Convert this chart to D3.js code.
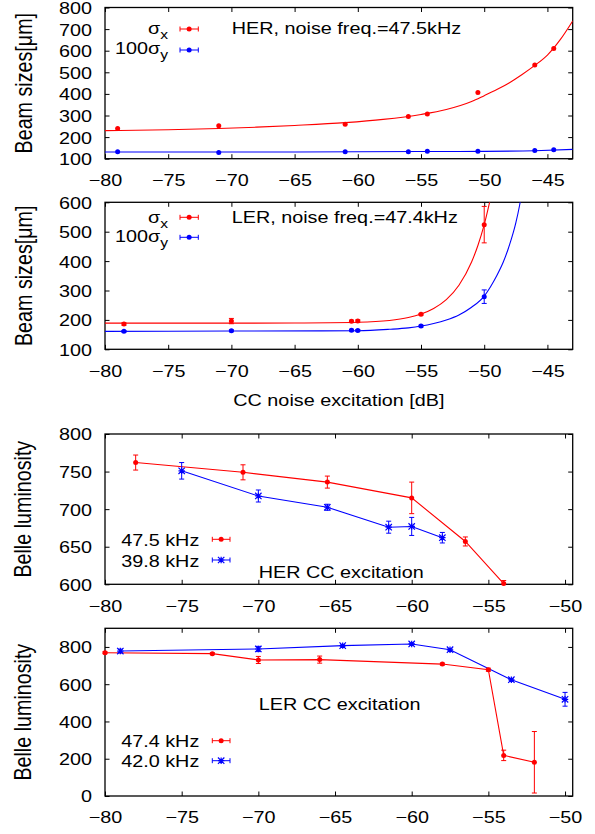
<!DOCTYPE html>
<html>
<head>
  <meta charset="utf-8">
  <title>CC noise excitation</title>
  <script src="https://cdn.jsdelivr.net/npm/d3@7"></script>
  <style>
    body { margin: 0; background: #fff; }
    text { font-family: "Liberation Sans", Arial, sans-serif; font-size: 16.5px; fill: #000; }
  </style>
</head>
<body>
<script>
// ---- data ----
// HER beam sizes, noise freq 47.5 kHz
var herX   = [-79, -71, -61, -56, -54.5, -50.5, -46, -44.5];
var herSx  = [240, 253, 259, 295, 307, 407, 534, 610];
var herSy  = [132, 129, 132, 132, 135, 135, 138, 142];
// fit curves (sampled from the plot)
var herSxFitX = [-80, -75, -71, -68, -65, -61, -58, -55, -53, -51, -50, -49, -48, -47, -46, -45, -44, -43];
var herSxFitY = [230, 234, 240, 246, 254, 267, 282, 305, 328, 365, 392, 420, 452, 490, 532, 580, 650, 738];
var herSyFitX = [-80, -65, -55, -50, -46, -43];
var herSyFitY = [131, 131, 133, 134, 137, 143];

// LER beam sizes, noise freq 47.4 kHz
var lerX    = [-78.5, -70, -60.5, -60, -55, -50];
var lerSx   = [186, 196, 195, 196, 219, 524];
var lerSxE  = [4, 9, 4, 4, 3, 62];
var lerSy   = [161, 163, 165, 164, 179, 279];
var lerSyE  = [3, 3, 3, 3, 3, 23];
var lerSxFitX = [-80, -70, -65, -60, -57.5, -56, -55, -54, -53, -52, -51, -50.5, -50, -49.5];
var lerSxFitY = [189, 189, 189.5, 192, 198, 208, 220, 239, 269, 318, 397, 453, 524, 614];
var lerSyFitX = [-80, -70, -60, -57.5, -56, -55, -54, -53, -52, -51, -50, -49.5, -49, -48.5, -48, -47.5, -47.2, -47];
var lerSyFitY = [161, 162, 163, 168, 173, 179, 188, 200, 217, 243, 281, 313, 351, 396, 455, 530, 590, 640];

// HER CC excitation, Belle luminosity
var herL1X = [-78, -71, -65.5, -60, -56.5, -54];
var herL1Y = [762, 749, 736, 715, 657, 601];
var herL1E = [10, 10, 8, 21, 6, 4];
var herL2X = [-75, -70, -65.5, -61.5, -60, -58];
var herL2Y = [751, 717.5, 702.5, 676, 677, 662];
var herL2E = [11, 8, 4, 8, 12, 7];

// LER CC excitation, Belle luminosity
var lerL1X = [-80, -73, -70, -66, -58, -55, -54, -52];
var lerL1Y = [769, 764, 730, 732, 708, 678, 218, 181];
var lerL1E = [5, 5, 19, 19, 5, 8, 28, 165];
var lerL2X = [-79, -70, -64.5, -60, -57.5, -53.5, -50];
var lerL2Y = [778, 789, 807, 816, 785, 624, 519];
var lerL2E = [10, 14, 5, 5, 5, 5, 37];

var ticksWide  = [-80, -75, -70, -65, -60, -55, -50, -45];
var ticksShort = [-80, -75, -70, -65, -60, -55, -50];

var RED = "#ff0000", BLUE = "#0000ff";
var L = 105, R = 572.7;
var SX = 1.2;   // the picture is stretched horizontally

var svg = d3.select("body").append("svg")
            .attr("width", 595)
            .attr("height", 834);

// text helper, stretched like the original
function txt(parent, x, y, s, anchor, rot) {
  var t = parent.append("text")
                .attr("text-anchor", anchor || "start")
                .attr("transform", "translate(" + x + "," + y + ") scale(" + SX + ",1)" + (rot ? " rotate(" + rot + ")" : ""));
  if (s != null) t.text(s);
  return t;
}

// y axis titles come out larger than the rest
function ylabel(g, x, y, s) {
  txt(g, x, y, s, "middle", -90).style("font-size", "19.7px");
}

var clipN = 0;
function panel(top, bottom, xdom, ydom, xt, yt) {
  var x = d3.scaleLinear().domain(xdom).range([L, R]);
  var y = d3.scaleLinear().domain(ydom).range([bottom, top]);
  var g = svg.append("g");
  var id = "clip" + (clipN++);
  g.append("clipPath").attr("id", id).append("rect")
   .attr("x", L).attr("y", top).attr("width", R - L).attr("height", bottom - top);

  var ax = g.append("g").attr("transform", "translate(0," + bottom + ")")
            .call(d3.axisBottom(x).tickValues(xt).tickSize(-4.5).tickSizeOuter(0).tickFormat(d3.format("d")));
  ax.selectAll("text").attr("y", 27.5).attr("dy", null)
    .attr("transform", "scale(" + SX + ",1)");
  g.append("g").attr("transform", "translate(0," + top + ")")
   .call(d3.axisTop(x).tickValues(xt).tickSize(-4.5).tickSizeOuter(0).tickFormat(""));
  var ay = g.append("g").attr("transform", "translate(" + L + ",0)")
            .call(d3.axisLeft(y).tickValues(yt).tickSize(-4.5).tickSizeOuter(0));
  ay.selectAll("text").attr("x", -13 / SX).attr("dy", "0.36em")
    .attr("transform", "scale(" + SX + ",1)");
  g.append("g").attr("transform", "translate(" + R + ",0)")
   .call(d3.axisRight(y).tickValues(yt).tickSize(-4.5).tickSizeOuter(0).tickFormat(""));
  g.selectAll(".domain").remove();
  g.selectAll(".tick line").attr("stroke", "#000").attr("stroke-width", 1);
  g.selectAll(".tick text").style("font-size", "16.5px")
   .style("font-family", "'Liberation Sans', Arial, sans-serif").attr("fill", "#000");

  g.append("rect").attr("x", L).attr("y", top).attr("width", R - L).attr("height", bottom - top)
   .attr("fill", "none").attr("stroke", "#000").attr("stroke-width", 1.3);

  var inner = g.append("g").attr("clip-path", "url(#" + id + ")");
  return { g: g, inner: inner, x: x, y: y, top: top, bottom: bottom };
}

function line(p, xs, ys, color, curve) {
  var ln = d3.line().x(function(d) { return p.x(d[0]); })
                    .y(function(d) { return p.y(d[1]); })
                    .curve(curve || d3.curveLinear);
  p.inner.append("path").datum(xs.map(function(v, i) { return [v, ys[i]]; }))
   .attr("d", ln).attr("fill", "none").attr("stroke", color).attr("stroke-width", 1.1);
}

function marker(g, cx, cy, color, star) {
  if (star) {
    var s = 3.2;
    g.append("path")
     .attr("d", "M" + (cx - s) + "," + cy + "H" + (cx + s) +
                "M" + cx + "," + (cy - s) + "V" + (cy + s) +
                "M" + (cx - s) + "," + (cy - s) + "L" + (cx + s) + "," + (cy + s) +
                "M" + (cx - s) + "," + (cy + s) + "L" + (cx + s) + "," + (cy - s))
     .attr("stroke", color).attr("stroke-width", 1.2).attr("fill", "none");
  } else {
    g.append("circle").attr("cx", cx).attr("cy", cy).attr("r", 2.5).attr("fill", color);
  }
}

function points(p, xs, ys, es, color, star) {
  var g = p.g.append("g");
  xs.forEach(function(v, i) {
    var cx = p.x(v), cy = p.y(ys[i]);
    var e = es ? es[i] : 0;
    if (e > 0) {
      var y1 = Math.max(p.y(ys[i] + e), p.top), y2 = Math.min(p.y(ys[i] - e), p.bottom);
      var d = "M" + cx + "," + y1 + "V" + y2;
      if (p.y(ys[i] + e) >= p.top) d += "M" + (cx - 2.5) + "," + y1 + "H" + (cx + 2.5);
      if (p.y(ys[i] - e) <= p.bottom) d += "M" + (cx - 2.5) + "," + y2 + "H" + (cx + 2.5);
      g.append("path").attr("d", d).attr("stroke", color).attr("stroke-width", 1).attr("fill", "none");
    }
    if (cy <= p.bottom + 1 && cy >= p.top - 1) marker(g, cx, cy, color, star);
  });
}

function legendSample(g, x1, x2, yy, color, star) {
  g.append("path")
   .attr("d", "M" + x1 + "," + yy + "H" + x2 +
              "M" + x1 + "," + (yy - 2.5) + "V" + (yy + 2.5) +
              "M" + x2 + "," + (yy - 2.5) + "V" + (yy + 2.5))
   .attr("stroke", color).attr("stroke-width", 1).attr("fill", "none");
  marker(g, (x1 + x2) / 2, yy, color, star);
}

function sigmaLegend(g, yx, yy, tx1, tx2) {
  var t1 = txt(g, 168, tx1, null, "end");
  t1.append("tspan").text("σ");
  t1.append("tspan").attr("dy", 5).style("font-size", "13px").text("x");
  var t2 = txt(g, 168, tx2, null, "end");
  t2.append("tspan").text("100σ");
  t2.append("tspan").attr("dy", 5).style("font-size", "13px").text("y");
  legendSample(g, 180, 198.3, yx, RED, false);
  legendSample(g, 180, 198.3, yy, BLUE, false);
}

// ---- panel 1: HER beam sizes ----
var p1 = panel(7.5, 158.7, [-80, -43], [100, 800], ticksWide, d3.range(100, 801, 100));
line(p1, herSxFitX, herSxFitY, RED, d3.curveMonotoneX);
line(p1, herSyFitX, herSyFitY, BLUE, d3.curveMonotoneX);
points(p1, herX, herSx, null, RED, false);
points(p1, herX, herSy, null, BLUE, false);
sigmaLegend(p1.g, 29, 50, 33.5, 53.5);
txt(p1.g, 231.7, 34.3, "HER, noise freq.=47.5kHz");
ylabel(p1.g, 31.5, 83.2, "Beam sizes[μm]");

// ---- panel 2: LER beam sizes ----
var p2 = panel(202.3, 349.3, [-80, -43], [100, 600], ticksWide, d3.range(100, 601, 100));
line(p2, lerSxFitX, lerSxFitY, RED, d3.curveMonotoneX);
line(p2, lerSyFitX, lerSyFitY, BLUE, d3.curveMonotoneX);
points(p2, lerX, lerSx, lerSxE, RED, false);
points(p2, lerX, lerSy, lerSyE, BLUE, false);
sigmaLegend(p2.g, 217.3, 237.3, 222.5, 241.7);
txt(p2.g, 231.7, 223.3, "LER, noise freq.=47.4kHz");
ylabel(p2.g, 31.5, 275.8, "Beam sizes[μm]");
txt(p2.g, 338.9, 406, "CC noise excitation [dB]", "middle");

// ---- panel 3: HER CC excitation luminosity ----
var p3 = panel(434, 584.3, [-80, -49.5], [600, 800], ticksShort, d3.range(600, 801, 50));
line(p3, herL1X, herL1Y, RED);
line(p3, herL2X, herL2Y, BLUE);
points(p3, herL1X, herL1Y, herL1E, RED, false);
points(p3, herL2X, herL2Y, herL2E, BLUE, true);
txt(p3.g, 199.3, 546, "47.5 kHz", "end");
txt(p3.g, 199.3, 566.7, "39.8 kHz", "end");
legendSample(p3.g, 212.3, 230, 539.3, RED, false);
legendSample(p3.g, 212.3, 230, 560, BLUE, true);
txt(p3.g, 258.7, 578.3, "HER CC excitation");
ylabel(p3.g, 30.5, 509.2, "Belle luminosity");

// ---- panel 4: LER CC excitation luminosity ----
var p4 = panel(628.3, 796, [-80, -49.5], [0, 900], ticksShort, d3.range(0, 801, 200));
line(p4, lerL1X, lerL1Y, RED);
line(p4, lerL2X, lerL2Y, BLUE);
points(p4, lerL1X, lerL1Y, lerL1E, RED, false);
points(p4, lerL2X, lerL2Y, lerL2E, BLUE, true);
txt(p4.g, 199.3, 747.3, "47.4 kHz", "end");
txt(p4.g, 199.3, 766.7, "42.0 kHz", "end");
legendSample(p4.g, 212.3, 230, 740.7, RED, false);
legendSample(p4.g, 212.3, 230, 760.7, BLUE, true);
txt(p4.g, 258.7, 710, "LER CC excitation");
ylabel(p4.g, 30.5, 712.2, "Belle luminosity");
</script>
</body>
</html>
